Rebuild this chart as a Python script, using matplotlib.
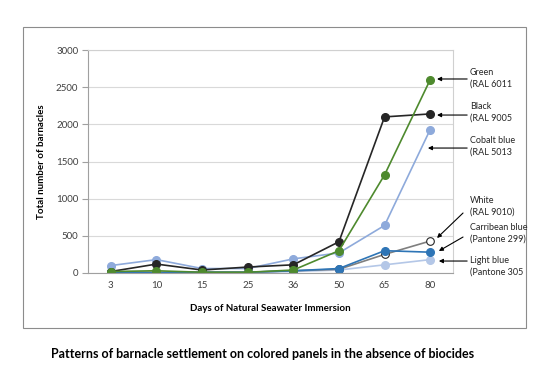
import matplotlib.pyplot as plt
from matplotlib.patches import Rectangle

plt.rcParams['font.family'] = ['Lato', 'DejaVu Sans']

days = ['3', '10', '15', '25', '36', '50', '65', '80']
green = [20, 30, 10, 10, 40, 300, 1320, 2600]
black = [20, 120, 40, 80, 110, 420, 2100, 2140]
cobalt_blue = [100, 180, 60, 60, 190, 270, 640, 1930]
white = [10, 10, 10, 10, 30, 50, 250, 430]
carribean_blue = [10, 0, 10, 10, 30, 60, 300, 280]
light_blue = [5, 5, 5, 5, 20, 40, 110, 180]

labels = ['Green\n(RAL 6011', 'Black\n(RAL 9005', 'Cobalt blue\n(RAL 5013',
          'White\n(RAL 9010)', 'Carribean blue\n(Pantone 299)', 'Light blue\n(Pantone 305']
label_y = [73, 107, 141, 201, 228, 261]

W, H = 550, 389
fig = plt.figure(figsize=(W / 100, H / 100), dpi=100)
ax = fig.add_axes([88 / W, 1 - 273 / H, (453 - 88) / W, (273 - 50) / H])

x = list(range(len(days)))
ax.plot(x, light_blue, color='#b4c7e7', marker='o', ms=5.5, lw=1.2)
ax.plot(x, white, color='#7f7f7f', marker='o', ms=5.5, lw=1.2,
        mfc='white', mec='#262626', mew=0.8)
ax.plot(x, carribean_blue, color='#2e75b6', marker='o', ms=5.5, lw=1.2)
ax.plot(x, cobalt_blue, color='#8eaadb', marker='o', ms=5.5, lw=1.2)
ax.plot(x, black, color='#262626', marker='o', ms=5.5, lw=1.2)
ax.plot(x, green, color='#4e8a2e', marker='o', ms=5.5, lw=1.2)

ax.set_xlim(-0.5, len(days) - 0.5)
ax.set_ylim(0, 3000)
ax.set_yticks(range(0, 3001, 500))
ax.set_xticks(x)
ax.set_xticklabels(days)
ax.tick_params(labelsize=7, length=0, pad=6, colors='#404040')
ax.tick_params(axis='y', length=4, color='#a0a0a0', pad=3)
ax.grid(axis='y', color='#d9d9d9', lw=0.8)
ax.set_axisbelow(True)
for side in ['top', 'right']:
    ax.spines[side].set_color('#d0d0d0')
for side in ['left', 'bottom']:
    ax.spines[side].set_color('#a0a0a0')

ax.set_ylabel('Total number of barnacles', fontsize=7, fontweight='bold', labelpad=7)
ax.set_xlabel('Days of Natural Seawater Immersion', fontsize=7, fontweight='bold', labelpad=10)

# arrows from the labels to the last points
arrows = [((7.81, 2610), (7.15, 2610)),
          ((7.81, 2125), (7.15, 2125)),
          ((7.81, 1681), (6.95, 1681)),
          ((7.72, 807), (7.15, 471)),
          ((7.72, 484), (7.19, 296)),
          ((7.81, 161), (7.19, 161))]
for tail, head in arrows:
    ax.annotate('', xy=head, xytext=tail, annotation_clip=False,
                arrowprops=dict(arrowstyle='-|>', color='black', lw=0.8,
                                mutation_scale=6, shrinkA=0, shrinkB=0))

for lab, py in zip(labels, label_y):
    fig.text(470 / W, 1 - (py - 5) / H, lab, fontsize=6.5, va='top', ha='left',
             linespacing=1.35, color='#262626')

fig.patches.append(Rectangle((23 / W, 1 - 328 / H), (526 - 23) / W, (328 - 27) / H,
                             transform=fig.transFigure, fill=False,
                             edgecolor='#8c8c8c', lw=0.8))

fig.text(263 / W, 1 - 354 / H, 'Patterns of barnacle settlement on colored panels in the absence of biocides',
         ha='center', va='center', fontsize=9, fontweight='bold')

fig.savefig('out.png', dpi=100)
